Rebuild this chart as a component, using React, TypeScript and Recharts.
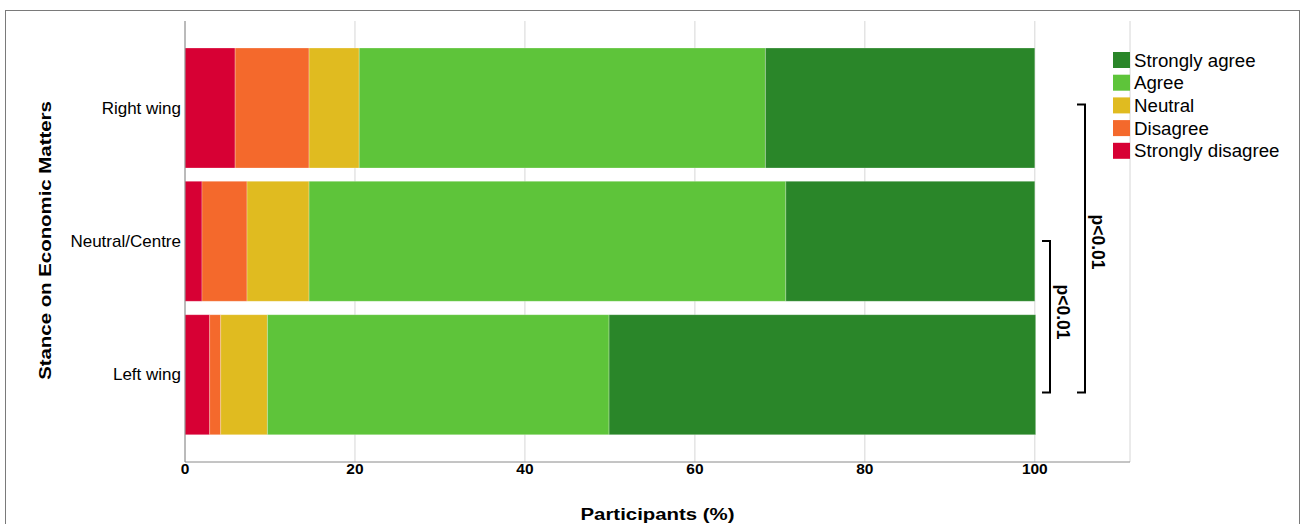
import React from 'react';
import { BarChart, Bar, XAxis, YAxis, CartesianGrid } from 'recharts';

const categories = ['Right wing', 'Neutral/Centre', 'Left wing'];
const stronglyDisagree = [5.9, 2.0, 2.9];
const disagree = [8.7, 5.3, 1.3];
const neutral = [5.9, 7.3, 5.5];
const agree = [47.8, 56.1, 40.2];
const stronglyAgree = [31.7, 29.3, 50.2];
const xTicks = [0, 20, 40, 60, 80, 100];

const seriesKeys = ['sd', 'd', 'n', 'a', 'sa'];
const seriesNames = ['Strongly disagree', 'Disagree', 'Neutral', 'Agree', 'Strongly agree'];
const seriesColors = ['#d70034', '#f4692c', '#e0bb20', '#5ec43a', '#2a8629'];
const seriesValues = [stronglyDisagree, disagree, neutral, agree, stronglyAgree];

const data = categories.map((c, i) => {
  const row: Record<string, string | number> = { category: c };
  seriesKeys.forEach((k, j) => {
    row[k] = seriesValues[j][i];
  });
  return row;
});

const FONT = '"Liberation Sans", Arial, Helvetica, sans-serif';

const XTitle = (props: any) => {
  const vb = props.viewBox || {};
  const cx = vb.x + vb.width / 2;
  const by = vb.y + vb.height + 28;
  return (
    <text
      transform={`translate(${cx},${by}) scale(1.2,1)`}
      textAnchor="middle"
      fontSize={17}
      fontWeight="bold"
      fill="#000"
      fontFamily={FONT}
    >
      Participants (%)
    </text>
  );
};

const YTitle = (props: any) => {
  const vb = props.viewBox || {};
  const cx = vb.x + 26;
  const cy = vb.y + vb.height / 2 - 1;
  return (
    <text
      transform={`translate(${cx},${cy}) rotate(-90) scale(1.2,1)`}
      textAnchor="middle"
      fontSize={17}
      fontWeight="bold"
      fill="#000"
      fontFamily={FONT}
    >
      Stance on Economic Matters
    </text>
  );
};

const XTick = (props: any) => {
  const { x, y, payload } = props;
  return (
    <text x={x} y={y + 12} textAnchor="middle" fontSize={15.5} fontWeight="bold" fill="#000" fontFamily={FONT}>
      {payload.value}
    </text>
  );
};

export default function App() {
  const legendOrder = [4, 3, 2, 1, 0];
  return (
    <div style={{ position: 'absolute', left: 0, top: 0, width: 1311, height: 524, fontFamily: FONT, background: '#fff' }}>
      <BarChart
        width={1311}
        height={524}
        data={data}
        layout="vertical"
        margin={{ top: 21, right: 181, bottom: 32, left: 25 }}
        barSize={120}
      >
        <CartesianGrid horizontal={false} stroke="#d6d6d6" />
        <XAxis
          type="number"
          domain={[0, 111.2]}
          ticks={xTicks}
          allowDataOverflow
          height={30}
          tickLine={false}
          tickSize={0}
          tickMargin={0}
          axisLine={{ stroke: '#8a8a8a' }}
          tick={<XTick />}
          label={<XTitle />}
        />
        <YAxis
          type="category"
          dataKey="category"
          width={160}
          padding={{ top: 20, bottom: 21 }}
          tickLine={false}
          tickSize={0}
          tickMargin={4}
          axisLine={{ stroke: '#8a8a8a' }}
          tick={{ fill: '#000', fontSize: 17, fontFamily: FONT }}
          label={<YTitle />}
        />
        {seriesKeys.map((k, j) => (
          <Bar
            key={k}
            dataKey={k}
            name={seriesNames[j]}
            stackId="s"
            fill={seriesColors[j]}
            stroke="#ffffff"
            strokeOpacity={0.25}
            strokeWidth={1}
            isAnimationActive={false}
          />
        ))}
      </BarChart>
      <svg width={1311} height={524} style={{ position: 'absolute', left: 0, top: 0, pointerEvents: 'none' }}>
        <rect x={5.5} y={10.5} width={1294} height={600} fill="none" stroke="#7a7a7a" strokeWidth={1} />
        {legendOrder.map((j, r) => (
          <g key={j}>
            <rect x={1113} y={52 + r * 22.7} width={17} height={16} fill={seriesColors[j]} />
            <text x={1134} y={66.5 + r * 22.7} fontSize={18.7} fill="#000" fontFamily={FONT}>
              {seriesNames[j]}
            </text>
          </g>
        ))}
        <path d="M1077 104.5 H1085 V392.5 H1077" fill="none" stroke="#000" strokeWidth={2} />
        <path d="M1042 241 H1050 V392.5 H1042" fill="none" stroke="#000" strokeWidth={2} />
        <text x={1098} y={242} transform="rotate(90 1098 242)" textAnchor="middle" dominantBaseline="central" fontSize={17.5} fontWeight="bold" fill="#000" fontFamily={FONT}>
          p&lt;0.01
        </text>
        <text x={1063} y={312} transform="rotate(90 1063 312)" textAnchor="middle" dominantBaseline="central" fontSize={17.5} fontWeight="bold" fill="#000" fontFamily={FONT}>
          p&lt;0.01
        </text>
      </svg>
    </div>
  );
}
